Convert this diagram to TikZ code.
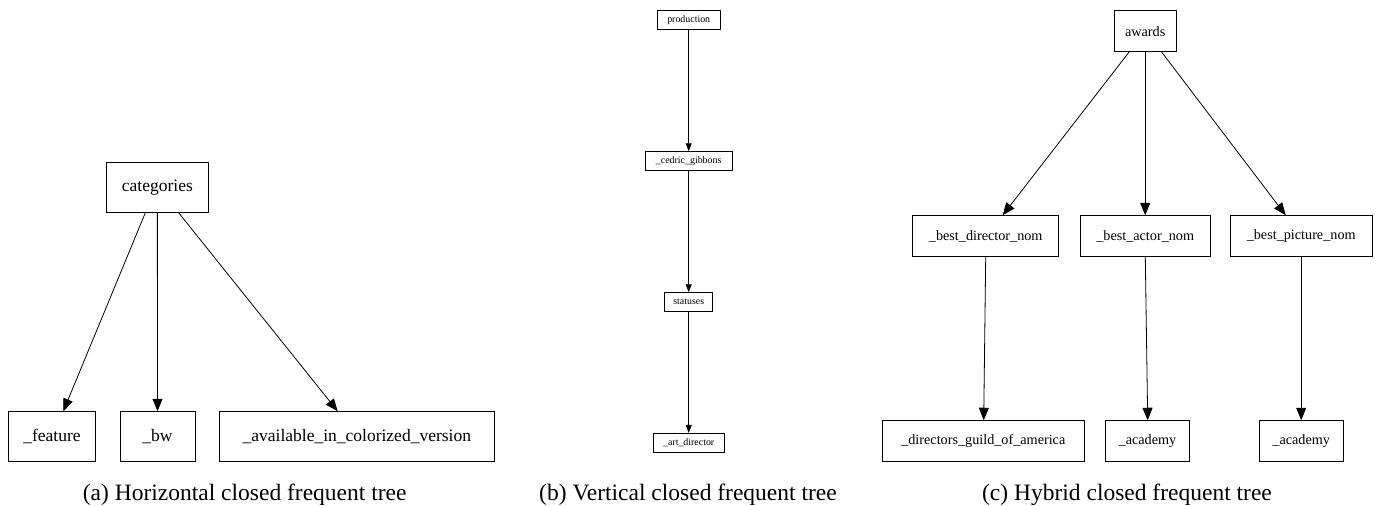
\documentclass[tikz,border=0pt]{standalone}
\usepackage{fontspec}
\setmainfont{Liberation Serif}
\usetikzlibrary{arrows.meta}
\tikzset{
  box/.style={draw, line width=0.9pt, rectangle, inner sep=0pt, align=center},
  boxa/.style={box, minimum height=50pt, font=\fontsize{17.5}{20}\selectfont},
  boxb/.style={box, minimum height=19pt, font=\fontsize{9.9}{11}\selectfont},
  boxc/.style={box, minimum height=41pt, font=\fontsize{14.2}{16}\selectfont},
  arr/.style={line width=0.8pt, -{Triangle[length=12.5pt,width=10pt]}},
  arrsmall/.style={line width=0.8pt, -{Triangle[length=8pt,width=6pt]}},
  captext/.style={anchor=base, font=\fontsize{23.5}{26}\selectfont, inner sep=0pt}
}
\begin{document}
\begin{tikzpicture}[x=1pt,y=-1pt]
\useasboundingbox (0,0) rectangle (1379,506);
% (a)
\node[boxa, minimum width=102.7pt] (cat) at (157.35,187.3) {categories};
\node[boxa, minimum width=86.6pt] (feat) at (52,436.7) {\_feature};
\node[boxa, minimum width=75pt] (bw) at (157.5,436.7) {\_bw};
\node[boxa, minimum width=275pt] (avail) at (356.8,436.7) {\_available\_in\_colorized\_version};
\draw[arr] ([xshift=-12pt]cat.south) -- ([xshift=11.3pt]feat.north);
\draw[arr] (cat.south) -- (bw.north);
\draw[arr] ([xshift=21.3pt]cat.south) -- ([xshift=-19.1pt]avail.north);
\node[captext] (capa) at (244.7,500) {(a) Horizontal closed frequent tree};
% (b)
\node[boxb, minimum width=63.3pt] (prod) at (688.7,20.3) {production};
\node[boxb, minimum width=87.4pt] (ced) at (688.7,161.2) {\_cedric\_gibbons};
\node[boxb, minimum width=47.7pt] (stat) at (688.7,302.2) {statuses};
\node[boxb, minimum width=70.7pt] (art) at (688.7,442.8) {\_art\_director};
\draw[arrsmall] (prod) -- (ced);
\draw[arrsmall] (ced) -- (stat);
\draw[arrsmall] (stat) -- (art);
\node[captext] (capb) at (688,500) {(b) Vertical closed frequent tree};
% (c)
\node[boxc, minimum width=61.7pt] (aw) at (1145.2,31.2) {awards};
\node[boxc, minimum width=146pt] (bdn) at (985.7,236.2) {\_best\_director\_nom};
\node[boxc, minimum width=130.3pt] (ban) at (1145.2,236.2) {\_best\_actor\_nom};
\node[boxc, minimum width=141.7pt] (bpn) at (1301.2,236.2) {\_best\_picture\_nom};
\node[boxc, minimum width=202.7pt] (dga) at (983.3,441.2) {\_directors\_guild\_of\_america};
\node[boxc, minimum width=84.4pt] (ac1) at (1147.5,441.2) {\_academy};
\node[boxc, minimum width=84.3pt] (ac2) at (1301.2,441.2) {\_academy};
\draw[arr] ([xshift=-16.2pt]aw.south) -- ([xshift=17pt]bdn.north);
\draw[arr] (aw.south) -- (ban.north);
\draw[arr] ([xshift=16.5pt]aw.south) -- ([xshift=-15.5pt]bpn.north);
\draw[arr] (bdn.south) -- ([xshift=0.4pt]dga.north);
\draw[arr] ([xshift=0.1pt]ban.south) -- ([xshift=0.2pt]ac1.north);
\draw[arr] (bpn.south) -- (ac2.north);
\node[captext] (capc) at (1127,500) {(c) Hybrid closed frequent tree};
\end{tikzpicture}
\end{document}
